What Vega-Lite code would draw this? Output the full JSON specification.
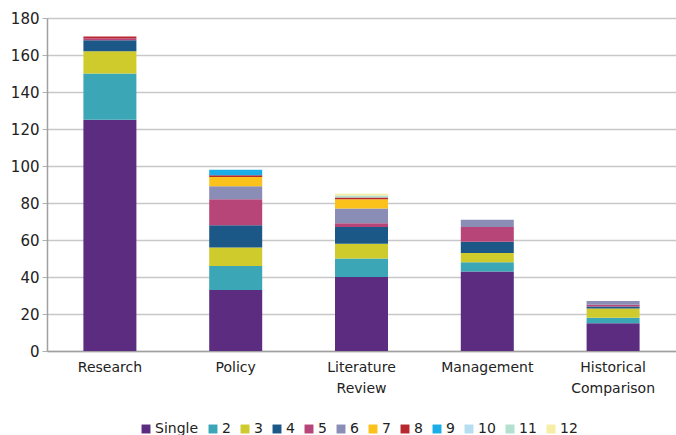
{
  "$schema": "https://vega.github.io/schema/vega-lite/v6.json",
  "width": 629,
  "height": 333,
  "autosize": "none",
  "padding": {"left": 47, "top": 18, "right": 0, "bottom": 84},
  "background": "white",
  "config": {
    "font": "DejaVu Sans",
    "view": {"stroke": null}
  },
  "data": {
    "values": [
      {"category": "Research", "size": "Single", "count": 125},
      {"category": "Research", "size": "2", "count": 25},
      {"category": "Research", "size": "3", "count": 12},
      {"category": "Research", "size": "4", "count": 6},
      {"category": "Research", "size": "5", "count": 1},
      {"category": "Research", "size": "8", "count": 1},
      {"category": "Policy", "size": "Single", "count": 33},
      {"category": "Policy", "size": "2", "count": 13},
      {"category": "Policy", "size": "3", "count": 10},
      {"category": "Policy", "size": "4", "count": 12},
      {"category": "Policy", "size": "5", "count": 14},
      {"category": "Policy", "size": "6", "count": 7},
      {"category": "Policy", "size": "7", "count": 5},
      {"category": "Policy", "size": "8", "count": 1},
      {"category": "Policy", "size": "9", "count": 3},
      {"category": "Literature Review", "size": "Single", "count": 40},
      {"category": "Literature Review", "size": "2", "count": 10},
      {"category": "Literature Review", "size": "3", "count": 8},
      {"category": "Literature Review", "size": "4", "count": 9},
      {"category": "Literature Review", "size": "5", "count": 2},
      {"category": "Literature Review", "size": "6", "count": 8},
      {"category": "Literature Review", "size": "7", "count": 5},
      {"category": "Literature Review", "size": "8", "count": 1},
      {"category": "Literature Review", "size": "11", "count": 1},
      {"category": "Literature Review", "size": "12", "count": 1},
      {"category": "Management", "size": "Single", "count": 43},
      {"category": "Management", "size": "2", "count": 5},
      {"category": "Management", "size": "3", "count": 5},
      {"category": "Management", "size": "4", "count": 6},
      {"category": "Management", "size": "5", "count": 8},
      {"category": "Management", "size": "6", "count": 4},
      {"category": "Historical Comparison", "size": "Single", "count": 15},
      {"category": "Historical Comparison", "size": "2", "count": 3},
      {"category": "Historical Comparison", "size": "3", "count": 5},
      {"category": "Historical Comparison", "size": "4", "count": 1},
      {"category": "Historical Comparison", "size": "5", "count": 1},
      {"category": "Historical Comparison", "size": "6", "count": 2}
    ]
  },
  "transform": [
    {"calculate": "indexof(['Single','2','3','4','5','6','7','8','9','10','11','12'], datum.size)", "as": "ord"}
  ],
  "mark": {"type": "bar", "width": 53},
  "encoding": {
    "x": {
      "field": "category",
      "type": "nominal",
      "sort": ["Research", "Policy", "Literature Review", "Management", "Historical Comparison"],
      "title": null,
      "scale": {"paddingInner": 0.5, "paddingOuter": 0.25},
      "axis": {
        "labelAngle": 0,
        "labelExpr": "split(datum.label, ' ')",
        "labelFontSize": 14,
        "labelColor": "#222222",
        "labelPadding": 9,
        "ticks": false,
        "domainColor": "#a0a0a0",
        "domainWidth": 1.5,
        "labelLineHeight": 21
      }
    },
    "y": {
      "field": "count",
      "type": "quantitative",
      "aggregate": "sum",
      "stack": "zero",
      "title": null,
      "scale": {"domain": [0, 180], "nice": false},
      "axis": {
        "values": [0, 20, 40, 60, 80, 100, 120, 140, 160, 180],
        "labelFontSize": 15,
        "labelColor": "#222222",
        "labelPadding": 3,
        "tickColor": "#b0b0b0",
        "tickSize": 5,
        "domainColor": "#a0a0a0",
        "domainWidth": 1.5,
        "gridColor": "#c8c8c8",
        "gridWidth": 1.3
      }
    },
    "color": {
      "field": "size",
      "type": "nominal",
      "scale": {
        "domain": ["Single", "2", "3", "4", "5", "6", "7", "8", "9", "10", "11", "12"],
        "range": ["#5b2c80", "#3ba7b6", "#cfcb2c", "#1c5887", "#b84578", "#8a8db6", "#fbc21b", "#b8292f", "#1aade8", "#b7ddf1", "#b3e0cf", "#f6eea4"]
      },
      "legend": {
        "title": null,
        "orient": "none",
        "direction": "horizontal",
        "legendX": 92,
        "legendY": 404,
        "symbolType": "square",
        "symbolSize": 80,
        "symbolStrokeWidth": 0,
        "labelFontSize": 14,
        "labelColor": "#222222",
        "labelOffset": 2,
        "columnPadding": 7
      }
    },
    "order": {"field": "ord", "type": "quantitative", "sort": "ascending"}
  }
}
